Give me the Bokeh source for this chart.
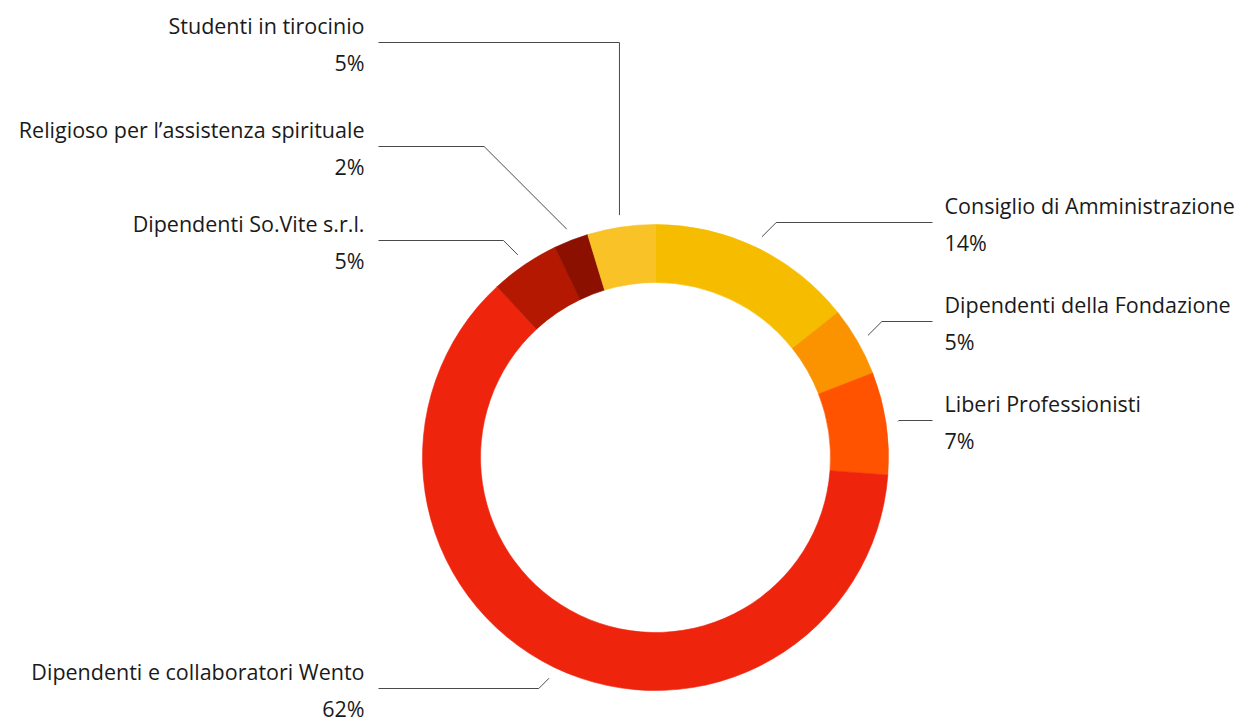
import numpy as np
from bokeh.plotting import figure
from bokeh.models import Range1d, ColumnDataSource
from bokeh.embed import file_html
from bokeh.resources import INLINE
from bokeh.core.properties import value

# ---- data (clockwise from 12 o'clock) ----
categories = [
    "Consiglio di Amministrazione",
    "Dipendenti della Fondazione",
    "Liberi Professionisti",
    "Dipendenti e collaboratori Wento",
    "Dipendenti So.Vite s.r.l.",
    "Religioso per l\u2019assistenza spirituale",
    "Studenti in tirocinio",
]
shares = [14.3, 4.8, 7.1, 61.9, 4.8, 2.4, 4.7]
pct_labels = ["14%", "5%", "7%", "62%", "5%", "2%", "5%"]
colors = ["#F6BC00", "#FB9200", "#FF5300", "#EE240D", "#B41800", "#8C1000", "#F9C226"]

# ---- layout (picture pixel coordinates) ----
label_side = ["right", "right", "right", "left", "left", "left", "left"]
label_line_y = [222, 321, 420, 688, 240, 146, 42]
label_vertical = [False, False, False, False, False, False, True]

W, H = 1238, 724
OFF = 0                    # figure's top-left in the picture
CX, CY = 655, 457          # donut centre in picture pixels
R_OUT, R_IN, R_LEAD = 233, 175, 245
LEFT_END, RIGHT_END = 378, 932
LEFT_TEXT, RIGHT_TEXT = 364, 944
FONT = value("Open Sans")
FSIZE = "21.5px"


def X(px):
    return px - CX


def Y(py):
    return CY - py


p = figure(width=W, height=H, output_backend="svg", toolbar_location=None,
           x_range=Range1d(OFF - CX, OFF + W - CX), y_range=Range1d(CY - OFF - H, CY - OFF),
           x_axis_type=None, y_axis_type=None, min_border=0)
p.grid.visible = False
p.outline_line_color = None
p.background_fill_color = "white"
p.border_fill_color = "white"

total = float(sum(shares))
cum = np.concatenate([[0.0], np.cumsum(shares)]) / total * 2 * np.pi
start_angle = np.pi / 2 - cum[1:]
end_angle = np.pi / 2 - cum[:-1]

src = ColumnDataSource(dict(start=start_angle, end=end_angle, color=colors, name=categories))
p.annular_wedge(x=0, y=0, inner_radius=R_IN, outer_radius=R_OUT,
                start_angle="start", end_angle="end", direction="anticlock",
                fill_color="color", line_color="color", line_width=0.6, source=src)

# leader lines and labels
xs, ys = [], []
name_x, name_y, name_t, name_a = [], [], [], []
pct_x, pct_y, pct_t = [], [], []
for i in range(len(categories)):
    t = (cum[i] + cum[i + 1]) / 2
    sx = CX + R_LEAD * np.sin(t)
    sy = CY - R_LEAD * np.cos(t)
    ly = label_line_y[i]
    dy = abs(ly - sy)
    if label_side[i] == "right":
        ex = sx + dy
        endx = RIGHT_END
        tx = RIGHT_TEXT
    else:
        ex = sx if label_vertical[i] else sx - dy
        endx = LEFT_END
        tx = LEFT_TEXT
    xs.append([X(sx), X(ex), X(endx)])
    ys.append([Y(sy), Y(ly), Y(ly)])
    name_x.append(X(tx)); name_y.append(Y(ly - 17)); name_t.append(categories[i])
    name_a.append("left" if label_side[i] == "right" else "right")
    pct_x.append(X(tx)); pct_y.append(Y(ly + 20)); pct_t.append(pct_labels[i])

p.multi_line(xs, ys, line_color="#4a4a4a", line_width=1)

p.text(x=name_x, y=name_y, text=name_t, text_align=name_a, text_baseline="middle",
       text_font=FONT, text_font_size=FSIZE, text_color="#1a1a1a")
p.text(x=pct_x, y=pct_y, text=pct_t, text_align=name_a, text_baseline="middle",
       text_font=FONT, text_font_size=FSIZE, text_color="#1a1a1a")

open("out.html", "w").write(file_html(p, INLINE))
